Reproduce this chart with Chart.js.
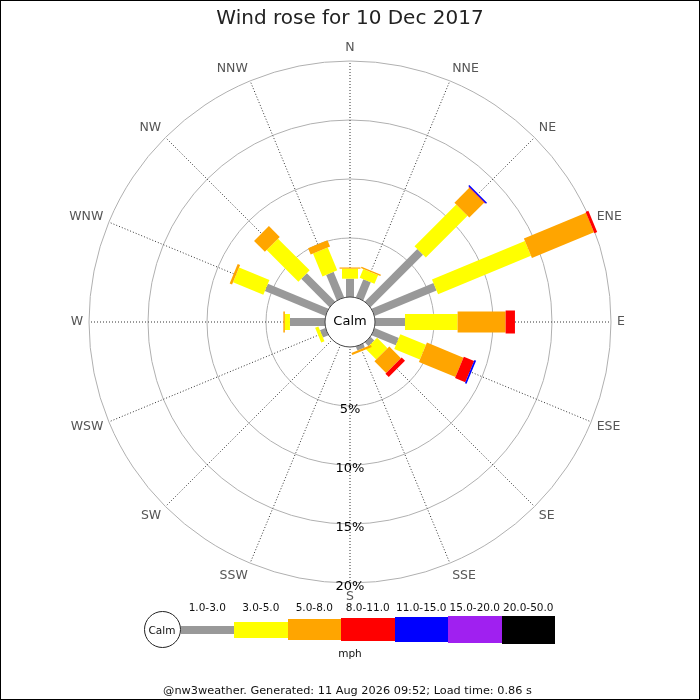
<!DOCTYPE html>
<html>
<head>
<meta charset="utf-8">
<title>Wind rose for 10 Dec 2017</title>
<script src="https://cdn.jsdelivr.net/npm/chart.js@4"></script>
<style>
  body { margin: 0; background: #fff; font-family: 'DejaVu Sans', sans-serif; }
  #page { position: relative; width: 700px; height: 700px; background: #fff; overflow: hidden; }
  #frame { position: absolute; left: 0; top: 0; width: 698px; height: 698px; border: 1px solid #000; pointer-events: none; }
  #rose { position: absolute; left: 0; top: 0; }
  .legend-labels { position: absolute; left: 180.5px; top: 601px; display: flex; font-size: 10.5px; color: #111; }
  .legend-labels span { width: 53.5px; text-align: center; white-space: nowrap; }
  .legend-row { position: absolute; left: 143.5px; top: 611px; height: 37px; display: flex; align-items: center; }
  .legend-calm { width: 35px; height: 35px; border: 1px solid #222; border-radius: 50%; display: flex; align-items: center; justify-content: center; font-size: 10.5px; color: #111; }
  .legend-row .swatch { width: 53.5px; }
  .legend-unit { position: absolute; left: 0; width: 700px; top: 647px; text-align: center; font-size: 10.5px; color: #111; }
  .footer { position: absolute; left: 0; width: 695px; top: 684px; text-align: center; font-size: 11.3px; color: #111; }
</style>
</head>
<body>
<div id="page">
  <canvas id="rose" width="700" height="700"></canvas>
  <div class="legend-labels" id="legend-labels"></div>
  <div class="legend-row" id="legend-row"><div class="legend-calm">Calm</div></div>
  <div class="legend-unit">mph</div>
  <div class="footer">@nw3weather. Generated: 11 Aug 2026 09:52; Load time: 0.86 s</div>
  <div id="frame"></div>
</div>
<script>
// Directions, clockwise from north
const directions = ['N', 'NNE', 'NE', 'ENE', 'E', 'ESE', 'SE', 'SSE', 'S', 'SSW', 'SW', 'WSW', 'W', 'WNW', 'NW', 'NNW'];

// Speed bins (mph) and their share of the day (%) per direction
const speedBins = ['1.0-3.0', '3.0-5.0', '5.0-8.0', '8.0-11.0', '11.0-15.0', '15.0-20.0', '20.0-50.0'];
const bin1to3   = [1.55, 1.66, 6.29, 5.68, 2.54, 2.22, 0.45, 0.35, 0, 0, 0, 0.50, 2.97, 5.55, 3.39, 2.34];
const bin3to5   = [0.85, 0.80, 5.00, 8.52, 4.46, 2.35, 1.25, 0,    0, 0, 0, 0.30, 0.43, 2.78, 3.80, 2.10];
const bin5to8   = [0.10, 0.12, 1.78, 5.70, 4.07, 3.35, 1.40, 0.20, 0, 0, 0, 0,    0.13, 0.22, 1.30, 0.58];
const bin8to11  = [0,    0,    0.05, 0.25, 0.79, 0.94, 0.40, 0,    0, 0, 0, 0,    0,    0,    0,    0];
const bin11to15 = [0,    0,    0.12, 0,    0,    0.15, 0,    0,    0, 0, 0, 0,    0,    0,    0,    0];
const bin15to20 = [0,    0,    0,    0,    0,    0,    0,    0,    0, 0, 0, 0,    0,    0,    0,    0];
const bin20to50 = [0,    0,    0,    0,    0,    0,    0,    0,    0, 0, 0, 0,    0,    0,    0,    0];
const binValues = [bin1to3, bin3to5, bin5to8, bin8to11, bin11to15, bin15to20, bin20to50];

// Ring ticks (%)
const ringValues = [5, 10, 15, 20];

// Styling per bin
const binColours = ['#999999', '#ffff00', '#ffa500', '#ff0000', '#0000ff', '#a020f0', '#000000'];
const barWidths = [8, 16, 21, 23, 25, 27, 28];
const calmOffset = 2.12; // % units hidden under the calm disc

Chart.defaults.font.family = "'DejaVu Sans', sans-serif";

// Radial scale that keeps the full chart area square instead of shrinking for labels,
// and pulls the off-axis direction labels toward their anchor
class WindRoseScale extends Chart.RadialLinearScale {
  setCenterPoint() {}
  fit() {
    super.fit();
    (this._pointLabelItems || []).forEach((item, i) => {
      const a = this.getIndexAngle(i);
      const deg = Math.round(a * 180 / Math.PI) % 360;
      if (deg % 90 === 0) return;
      const h = item.bottom - item.top;
      const amount = h / 2 * (1 - Math.abs(Math.cos(a)));
      const shift = (deg < 90 || deg > 270) ? amount : -amount;
      item.y += shift;
      item.top += shift;
      item.bottom += shift;
    });
  }
}
WindRoseScale.id = 'windRose';
WindRoseScale.defaults = Chart.RadialLinearScale.defaults;
Chart.register(WindRoseScale);

// Stack bins: each dataset holds the outer edge of its bin
const stacked = [];
binValues.forEach((vals, k) => {
  stacked.push(vals.map((v, i) => v + (k ? stacked[k - 1][i] : 0)));
});

// Draw stacked bars, calm disc and ring labels
const windBars = {
  id: 'windBars',
  afterDatasetsDraw(chart) {
    const scale = chart.scales.r;
    const ctx = chart.ctx;
    ctx.save();
    ctx.lineCap = 'butt';
    chart.data.datasets.forEach((ds, k) => {
      const meta = chart.getDatasetMeta(k);
      meta.data.forEach((pt, i) => {
        if (binValues[k][i] <= 0) return;
        const inner = k === 0 ? scale.getPointPositionForValue(i, 0) : chart.getDatasetMeta(k - 1).data[i];
        ctx.beginPath();
        ctx.moveTo(inner.x, inner.y);
        ctx.lineTo(pt.x, pt.y);
        ctx.lineWidth = barWidths[k];
        ctx.strokeStyle = binColours[k];
        ctx.stroke();
      });
    });

    // Calm disc
    const calmR = scale.getDistanceFromCenterForValue(0);
    ctx.beginPath();
    ctx.arc(scale.xCenter, scale.yCenter, calmR, 0, Math.PI * 2);
    ctx.fillStyle = '#fff';
    ctx.fill();
    ctx.lineWidth = 1;
    ctx.strokeStyle = '#444';
    ctx.stroke();
    ctx.fillStyle = '#000';
    ctx.font = "13px 'DejaVu Sans'";
    ctx.textAlign = 'center';
    ctx.textBaseline = 'middle';
    ctx.fillText('Calm', scale.xCenter, scale.yCenter);

    // Ring labels along the south spoke
    const south = directions.indexOf('S');
    ringValues.forEach(v => {
      const p = scale.getPointPositionForValue(south, v);
      ctx.fillText(v + '%', p.x, p.y + 3.5);
    });
    ctx.restore();
  }
};

new Chart(document.getElementById('rose'), {
  type: 'radar',
  data: {
    labels: directions,
    datasets: speedBins.map((bin, k) => ({
      label: bin,
      data: stacked[k],
      showLine: false,
      fill: false,
      borderWidth: 0,
      borderColor: 'rgba(0,0,0,0)',
      backgroundColor: 'rgba(0,0,0,0)',
      pointRadius: 0,
      pointHoverRadius: 0
    }))
  },
  options: {
    responsive: false,
    animation: false,
    events: [],
    layout: { padding: { left: 89, right: 89, top: 0, bottom: 117 } },
    plugins: {
      legend: { display: false },
      tooltip: { enabled: false },
      title: {
        display: true,
        text: 'Wind rose for 10 Dec 2017',
        color: '#222',
        font: { size: 20, weight: 'normal' },
        padding: { top: 7, bottom: 30 }
      }
    },
    scales: {
      r: {
        type: 'windRose',
        min: -calmOffset,
        max: ringValues[ringValues.length - 1],
        afterBuildTicks(scale) {
          scale.ticks = ringValues.map(v => ({ value: v }));
        },
        ticks: { display: false },
        grid: { circular: true, color: '#b0b0b0', lineWidth: 1 },
        angleLines: { color: '#333', lineWidth: 1, borderDash: [1, 2] },
        pointLabels: { color: '#555', font: { size: 12.5 }, padding: 6 }
      }
    }
  },
  plugins: [windBars]
});

// HTML legend built from the bins
const labelRow = document.getElementById('legend-labels');
const swatchRow = document.getElementById('legend-row');
speedBins.forEach((bin, k) => {
  const lab = document.createElement('span');
  lab.textContent = bin;
  labelRow.appendChild(lab);
  const sw = document.createElement('div');
  sw.className = 'swatch';
  sw.style.height = barWidths[k] + 'px';
  sw.style.background = binColours[k];
  swatchRow.appendChild(sw);
});
</script>
</body>
</html>
